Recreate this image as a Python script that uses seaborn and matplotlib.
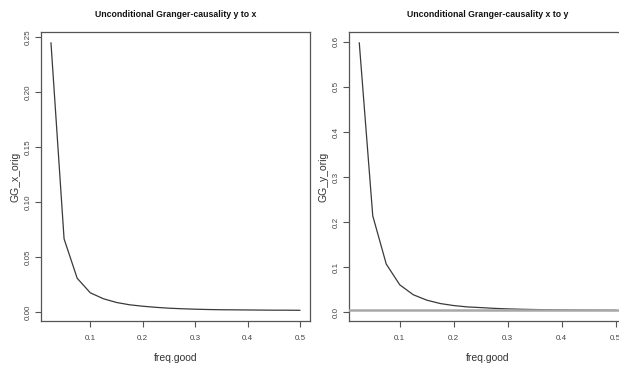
import numpy as np
import pandas as pd
import matplotlib
matplotlib.use("Agg")
import matplotlib.pyplot as plt
import seaborn as sns

freq_good = [0.025, 0.05, 0.075, 0.1, 0.125, 0.15, 0.175, 0.2, 0.225, 0.25,
             0.275, 0.3, 0.325, 0.35, 0.375, 0.4, 0.425, 0.45, 0.475, 0.5]

gg_x_orig = [0.2448, 0.0666, 0.0308, 0.0176, 0.0122, 0.0088, 0.0067, 0.0054,
             0.0044, 0.0036, 0.0031, 0.0027, 0.0024, 0.0022, 0.0021, 0.0020,
             0.0019, 0.0018, 0.0018, 0.0017]

gg_y_orig = [0.598, 0.214, 0.107, 0.061, 0.039, 0.027, 0.0195, 0.015,
             0.012, 0.0105, 0.0088, 0.0076, 0.0068, 0.0062, 0.0057, 0.0053,
             0.0050, 0.0048, 0.0046, 0.0045]

ref_level_y = 0.0053

titles = ["Unconditional Granger-causality y to x",
          "Unconditional Granger-causality x to y"]

sns.set_theme(style="ticks")
plt.rcParams['font.family'] = ['Liberation Sans', 'DejaVu Sans']

df = pd.DataFrame({"freq.good": freq_good, "GG_x_orig": gg_x_orig, "GG_y_orig": gg_y_orig})

W, H = 619, 368
fig = plt.figure(figsize=(W / 100, H / 100), dpi=100)
ax1 = fig.add_axes([41 / W, (H - 321) / H, (310 - 41) / W, 289 / H])
ax2 = fig.add_axes([349 / W, (H - 321) / H, (626 - 349) / W, 289 / H])

for ax, col, title in [(ax1, "GG_x_orig", titles[0]), (ax2, "GG_y_orig", titles[1])]:
    sns.lineplot(data=df, x="freq.good", y=col, ax=ax, color="#3a3a3a", linewidth=0.9)
    ax.margins(x=0.04, y=0.04)
    for s in ax.spines.values():
        s.set_visible(True)
        s.set_color("#555555")
        s.set_linewidth(0.9)
    ax.set_xticks([0.1, 0.2, 0.3, 0.4, 0.5])
    ax.set_xlabel("freq.good", fontsize=7.5, color="#333333", labelpad=8)
    ax.set_ylabel(col, fontsize=7.5, color="#333333", labelpad=3)
    ax.set_title(title, fontsize=6.3, fontweight="bold", pad=11, color="#111111")
    ax.grid(False)

ax1.set_yticks([0.0, 0.05, 0.10, 0.15, 0.20, 0.25])
ax1.set_yticklabels(["0.00", "0.05", "0.10", "0.15", "0.20", "0.25"])
ax2.set_yticks([0.0, 0.1, 0.2, 0.3, 0.4, 0.5, 0.6])
ax2.axhline(ref_level_y, color="#a8a8a8", linewidth=1.8, zorder=5)

for ax in (ax1, ax2):
    ax.tick_params(axis="both", direction="out", length=4, width=0.8, color="#555555",
                   labelsize=5.8, labelcolor="#444444", pad=2.5)
    ax.tick_params(axis="x", pad=6)
    for lab in ax.get_yticklabels():
        lab.set_rotation(90)
        lab.set_va("center")

fig.savefig("out.png", dpi=100)
